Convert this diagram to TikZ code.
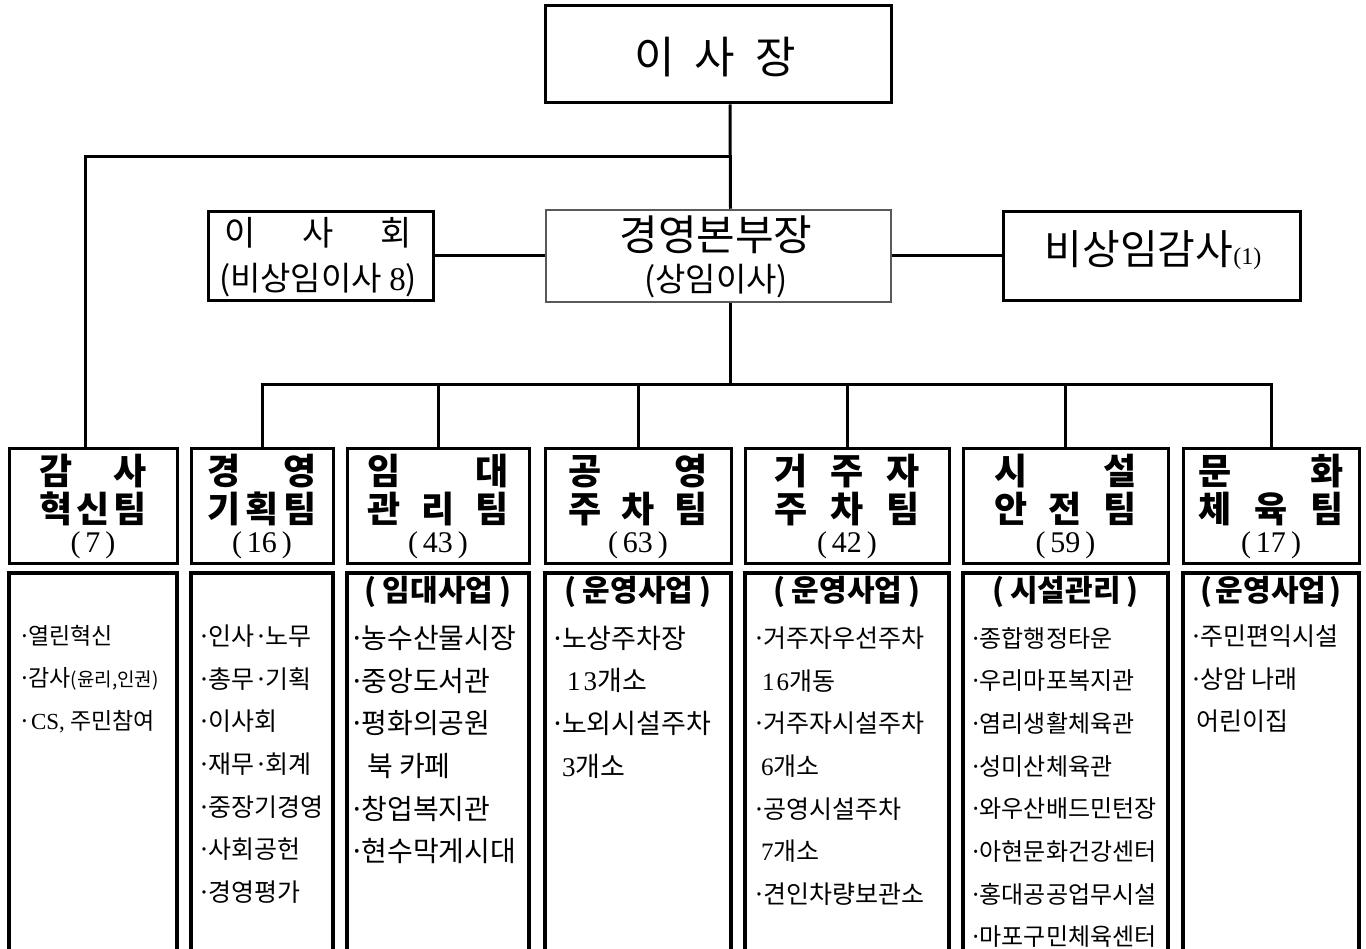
\documentclass[tikz,border=0pt]{standalone}
\usepackage{fontspec}
\setmainfont{Liberation Serif}
\newfontfamily\kr{Noto Sans CJK KR}
\newcommand\fs[1]{\fontsize{#1}{#1}\selectfont}
\newcommand\dt{·\kern-0.12em}
\newcommand\teamunit[7]{%
  \node[team, minimum width=#3pt] (#1) at (#2,506) {};
  \node[ttl] (#1-a) at (#2,471.5) {\makebox[#4pt][s]{#5}};
  \node[ttl] (#1-b) at (#2,509) {\makebox[#4pt][s]{#6}};
  \node[cnt] (#1-n) at (#2,545) {(\kern5pt#7\kern5pt)};
  \node[lowbox, minimum width=#3pt] (#1-box) at (#2,783) {};
}
\newcommand\itemlist[5]{%
  \foreach \t [count=\i] in {#5} {\node[itm, font=\kr\fs{#4}] (#1-\i) at (#2, #3+\i*42.7-42.7) {\t};}
}
\begin{document}
\begin{tikzpicture}[x=1pt,y=-1pt,
  box/.style={draw, line width=3pt, rectangle, inner sep=0pt},
  team/.style={draw, line width=3pt, rectangle, inner sep=0pt, minimum height=114pt},
  lowbox/.style={draw, line width=4pt, rectangle, inner sep=0pt, minimum height=420pt},
  conn/.style={line width=3pt, line join=miter},
  ttl/.style={font=\kr\bfseries\fs{36}, inner sep=0pt},
  cnt/.style={font=\fs{30}, inner sep=0pt},
  head/.style={font=\kr\bfseries\fs{30}, inner sep=0pt},
  itm/.style={anchor=west, inner sep=0pt},
  txt/.style={inner sep=0pt}]
\useasboundingbox (0,0) rectangle (1366,949);
\fill[white] (0,0) rectangle (1366,949);

% top boxes
\node[box, minimum width=346pt, minimum height=97pt] (chair) at (718,54.5) {};
\node[txt, font=\kr\fs{44}] (chair-t) at (715,57) {이\hspace{20pt}사\hspace{20pt}장};

\node[box, draw=black!65, line width=2.5pt, minimum width=345pt, minimum height=92pt] (exec) at (718.5,256) {};
\node[txt, font=\kr\fs{42}] (exec-a) at (716,235) {경영본부장};
\node[txt, font=\kr\fs{33}] (exec-b) at (716,281) {(상임이사)};

\node[box, minimum width=225pt, minimum height=89pt] (board) at (320.5,256) {};
\node[txt, font=\kr\fs{34}] (board-a) at (318,233) {\makebox[188pt][s]{이\hfill 사\hfill 회}};
\node[txt, font=\kr\fs{33}] (board-b) at (318,280) {(비상임이사 {\rmfamily 8})};

\node[box, minimum width=297pt, minimum height=89pt] (aud) at (1151.5,256) {};
\node[txt, font=\kr\fs{41}] (aud-t) at (1153,250) {비상임감사{\rmfamily\fs{24}(1)}};

% teams
\teamunit{t1}{93}{168}{108}{감\hfill 사}{혁\hfill 신\hfill 팀}{7}
\teamunit{t2}{262}{142}{110}{경\hfill 영}{기\hfill 획\hfill 팀}{16}
\teamunit{t3}{438}{182}{142}{임\hfill 대}{관\hfill 리\hfill 팀}{43}
\teamunit{t4}{638}{186}{140}{공\hfill 영}{주\hfill 차\hfill 팀}{63}
\teamunit{t5}{847}{204}{145}{거\hfill 주\hfill 자}{주\hfill 차\hfill 팀}{42}
\teamunit{t6}{1065.5}{205}{142}{시\hfill 설}{안\hfill 전\hfill 팀}{59}
\teamunit{t7}{1271}{176}{145}{문\hfill 화}{체\hfill 육\hfill 팀}{17}

% headings
\node[head] (t3-h) at (438,592) {(\kern6pt임대사업\kern6pt)};
\node[head] (t4-h) at (638,592) {(\kern6pt운영사업\kern6pt)};
\node[head] (t5-h) at (847,592) {(\kern6pt운영사업\kern6pt)};
\node[head] (t6-h) at (1065.5,592) {(\kern6pt시설관리\kern6pt)};
\node[head] (t7-h) at (1271,592) {(\kern3pt운영사업\kern3pt)};

% items
\itemlist{t1-i}{18}{636}{23}{\dt 열린혁신, {\dt 감사{\fs{19}(윤리,인권)}}, {·{\rmfamily CS,} 주민참여}}
\itemlist{t2-i}{197}{636}{25}{\dt 인사\dt 노무, \dt 총무\dt 기획, \dt 이사회, \dt 재무\dt 회계, \dt 중장기경영, \dt 사회공헌, \dt 경영평가}
\itemlist{t3-i}{349}{638}{28}{\dt 농수산물시장, \dt 중앙도서관, \dt 평화의공원, \hspace{18pt}북 카페, \dt 창업복지관, \dt 현수막게시대}
\itemlist{t4-i}{550}{638}{27}{\dt 노상주차장, {\hspace{17pt}{\rmfamily 1\kern3pt3}개소}, \dt 노외시설주차, {\hspace{12pt}{\rmfamily 3}개소}}
\itemlist{t5-i}{752}{638}{25}{\dt 거주자우선주차, {\hspace{10pt}{\rmfamily 1\kern2pt6}개동}, \dt 거주자시설주차, {\hspace{9pt}{\rmfamily 6}개소}, \dt 공영시설주차, {\hspace{9pt}{\rmfamily 7}개소}, \dt 견인차량보관소}
\itemlist{t6-i}{969}{638}{24}{\dt 종합행정타운, \dt 우리마포복지관, \dt 염리생활체육관, \dt 성미산체육관, \dt 와우산배드민턴장, \dt 아현문화건강센터, \dt 홍대공공업무시설, \dt 마포구민체육센터}
\itemlist{t7-i}{1189}{636}{25}{\dt 주민편익시설, \dt 상암 나래, \hspace{7pt}어린이집}

% connectors
\coordinate (j1) at (730,157);
\coordinate (busY) at (0,385);
\draw[conn] ([xshift=12pt]chair.south) -- ([xshift=12pt]exec.north);
\draw[conn] (j1) -| ([xshift=-8pt]t1.north);
\draw[conn] (board.east) -- (exec.west);
\draw[conn] (exec.east) -- (aud.west);
\draw[conn] ([xshift=12pt]exec.south) -- ([xshift=12pt]exec.south |- busY);
\draw[conn] ([xshift=-1.5pt]t2.north |- busY) -- ([xshift=1.5pt]t7.north |- busY);
\foreach \n in {t2,t3,t4,t5,t6,t7} {\draw[conn] (\n.north) -- (\n.north |- busY);}
\end{tikzpicture}
\end{document}
